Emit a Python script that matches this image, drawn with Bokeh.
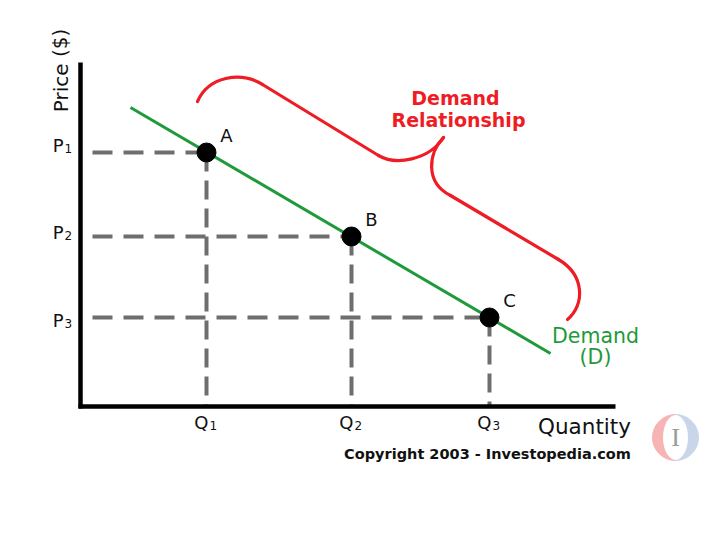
from bokeh.plotting import figure
from bokeh.models import Range1d
from bokeh.core.properties import value
from bokeh.embed import file_html
from bokeh.resources import INLINE

# ---- chart values (x = quantity units, y = price units, origin at axes) ----
POINT_NAMES = ["A", "B", "C"]
Q_VALUES = [126, 271, 409]
P_VALUES = [254, 170, 89]
Q_LABELS = ["Q", "Q", "Q"]
Q_SUBS = ["1", "2", "3"]
P_LABELS = ["P", "P", "P"]
P_SUBS = ["1", "2", "3"]
P_LABEL_Y = [261, 174, 86]

DEMAND_X = [50, 470]
DEMAND_Y = [299, 53]

X_AXIS_END = 535
Y_AXIS_END = 344

# brace (curly bracket) path: cubic segments
BRACE_X0 = [117, 182, 298, 363, 370, 478]
BRACE_Y0 = [305, 322, 251, 269, 211, 147]
BRACE_CX0 = [128, 221, 315, 348, 406, 505]
BRACE_CY0 = [330, 298, 241, 254, 190, 131]
BRACE_CX1 = [160, 259, 348, 344, 442, 504]
BRACE_CY1 = [335.5, 275, 246, 224, 168, 101]
BRACE_X1 = [182, 298, 363, 370, 478, 487]
BRACE_Y1 = [322, 251, 269, 211, 147, 87]

FONT = value("DejaVu Sans")

p = figure(width=704, height=524, output_backend="svg", toolbar_location=None,
           x_range=Range1d(-80, 624), y_range=Range1d(-118, 406),
           x_axis_type=None, y_axis_type=None, min_border=0,
           outline_line_color=None, background_fill_color="white",
           border_fill_color="white")
p.xgrid.visible = False
p.ygrid.visible = False

# dashed guide lines
p.segment(x0=[12] * 3, y0=P_VALUES, x1=Q_VALUES, y1=P_VALUES,
          line_color="#6e6e6e", line_width=4, line_dash="20 11")
p.segment(x0=Q_VALUES, y0=P_VALUES, x1=Q_VALUES, y1=[0] * 3,
          line_color="#6e6e6e", line_width=4, line_dash="19 9")

# axes
p.segment(x0=[0, -2], y0=[-2, 0], x1=[0, X_AXIS_END], y1=[Y_AXIS_END, 0],
          line_color="black", line_width=4.5)

# demand line
p.line(DEMAND_X, DEMAND_Y, line_color="#1f9a3a", line_width=3)

# points
p.scatter(Q_VALUES, P_VALUES, size=19, color="black")
p.text(Q_VALUES, P_VALUES, text=POINT_NAMES, x_offset=20, y_offset=-17,
       text_font=FONT, text_font_size="18px", text_color="#111111",
       text_align="center", text_baseline="middle")

# brace
p.bezier(x0=BRACE_X0, y0=BRACE_Y0, x1=BRACE_X1, y1=BRACE_Y1,
         cx0=BRACE_CX0, cy0=BRACE_CY0, cx1=BRACE_CX1, cy1=BRACE_CY1,
         line_color="#ee1c25", line_width=3.2, line_cap="round")

# price / quantity labels
p.text([-17] * 3, P_LABEL_Y, text=P_LABELS, text_font=FONT, text_font_size="18px",
       text_color="#111111", text_align="right", text_baseline="middle")
p.text([-16] * 3, [y - 3 for y in P_LABEL_Y], text=P_SUBS, text_font=FONT,
       text_font_size="12px", text_color="#111111", text_align="left",
       text_baseline="middle")
p.text([q + 2 for q in Q_VALUES], [-16] * 3, text=Q_LABELS, text_font=FONT,
       text_font_size="18px", text_color="#111111", text_align="right",
       text_baseline="middle")
p.text([q + 3 for q in Q_VALUES], [-19] * 3, text=Q_SUBS, text_font=FONT,
       text_font_size="12px", text_color="#111111", text_align="left",
       text_baseline="middle")

p.text([-20], [336], text=["Price ($)"], angle=1.5708, text_font=FONT,
       text_font_size="20px", text_color="#111111", text_align="center",
       text_baseline="middle")
p.text([504], [-20], text=["Quantity"], text_font=FONT, text_font_size="21.5px",
       text_color="#111111", text_align="center", text_baseline="middle")
p.text([407], [-47], text=["Copyright 2003 - Investopedia.com"], text_font=FONT,
       text_font_size="14.5px", text_font_style="bold", text_color="#111111",
       text_align="center", text_baseline="middle")

p.text([375, 378], [309, 287], text=["Demand", "Relationship"], text_font=FONT,
       text_font_size="19px", text_font_style="bold", text_color="#ee1c25",
       text_align="center", text_baseline="middle")
p.text([515, 515], [71, 50], text=["Demand", "(D)"], text_font=FONT,
       text_font_size="20.5px", text_color="#1f9a3a", text_align="center",
       text_baseline="middle")

# faded logo
p.wedge([595], [-31], radius=23, radius_units="screen", start_angle=1.5708,
        end_angle=4.7124, color="#f6b4b4")
p.wedge([595], [-31], radius=23, radius_units="screen", start_angle=-1.5708,
        end_angle=1.5708, color="#c9d6ea")
p.ellipse([595], [-31], width=24, height=44, color="white")
p.text([595], [-31], text=["I"], text_font=value("Liberation Serif"),
       text_font_size="26px", text_color="#9a9a9a", text_align="center",
       text_baseline="middle")

open("out.html", "w").write(file_html(p, INLINE))
